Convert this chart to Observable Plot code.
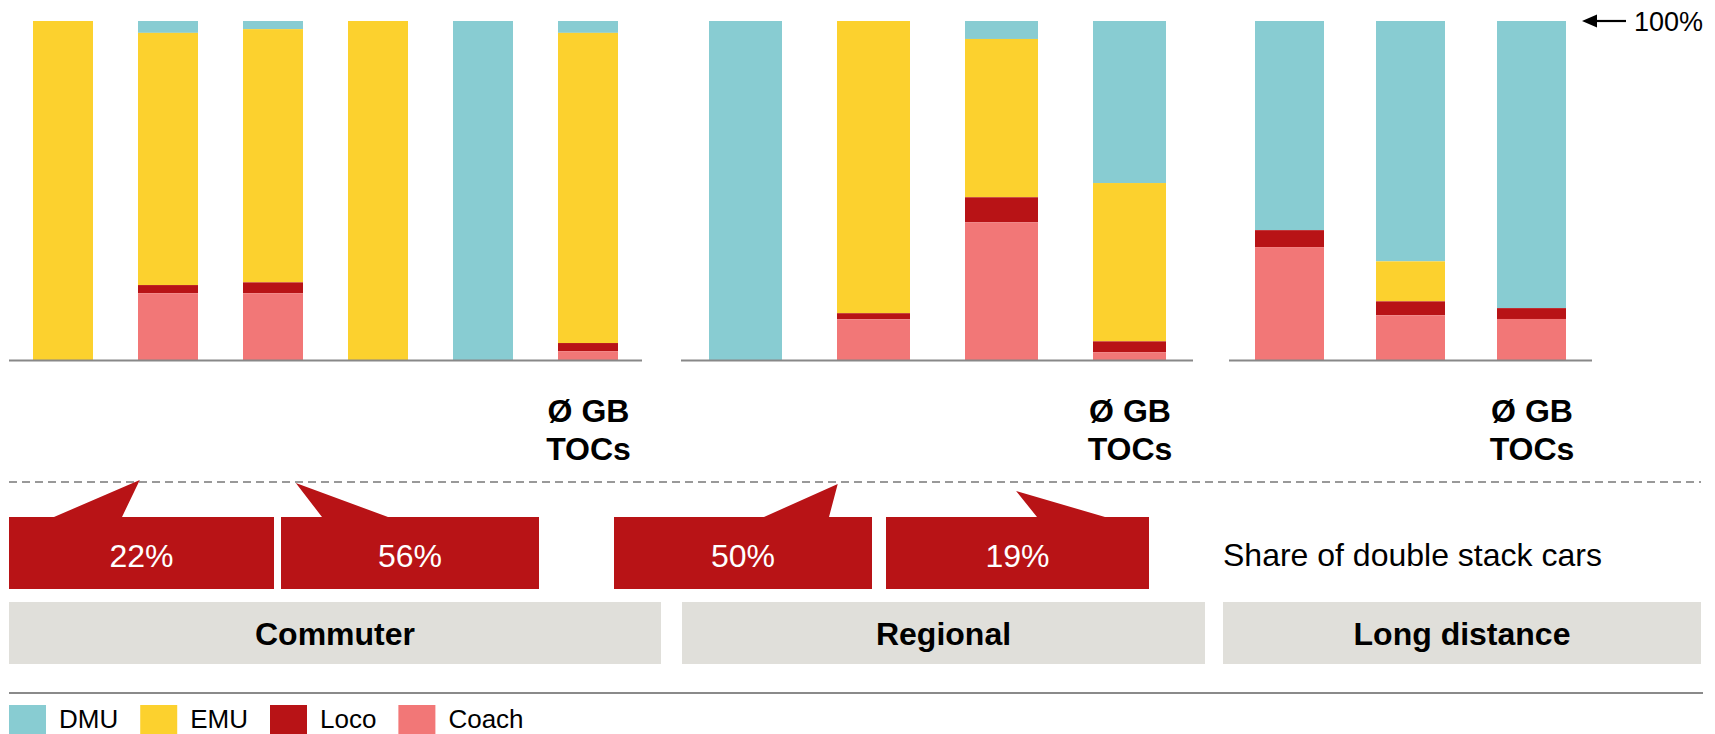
<!DOCTYPE html>
<html>
<head>
<meta charset="utf-8">
<script src="https://cdn.jsdelivr.net/npm/d3@7"></script>
<script src="https://cdn.jsdelivr.net/npm/@observablehq/plot@0.6"></script>
<style>
  html, body { margin: 0; padding: 0; background: #fff; overflow: hidden; }
  #chart { position: relative; width: 1715px; height: 734px; overflow: hidden; font-family: "Liberation Sans", Arial, sans-serif; }
  #chart svg { position: absolute; left: 0; top: 0; }
</style>
</head>
<body>
<div id="chart"></div>
<script>
// ---------- data ----------
const series = ["DMU", "EMU", "Loco", "Coach"];
const seriesColors = ["#88CCD2", "#FCD12E", "#B81316", "#F27777"];
const stackOrder = ["Coach", "Loco", "EMU", "DMU"];

const segments = ["Commuter", "Regional", "Long distance"];
const avgCategory = "Ø GB TOCs";
const avgTickLabel = "Ø GB\nTOCs";

const commuterTOCs  = ["TOC 1", "TOC 2", "TOC 3", "TOC 4", "TOC 5", "Ø GB TOCs"];
const commuterDMU   = [0, 3.5, 2.4, 0, 100, 3.5];
const commuterEMU   = [100, 74.4, 74.7, 100, 0, 91.5];
const commuterLoco  = [0, 2.4, 3.2, 0, 0, 2.4];
const commuterCoach = [0, 19.7, 19.7, 0, 0, 2.6];

const regionalTOCs  = ["TOC 1", "TOC 2", "TOC 3", "Ø GB TOCs"];
const regionalDMU   = [100, 0, 5.3, 47.8];
const regionalEMU   = [0, 86.2, 46.7, 46.7];
const regionalLoco  = [0, 1.8, 7.4, 3.2];
const regionalCoach = [0, 12.0, 40.6, 2.3];

const longTOCs  = ["TOC 1", "TOC 2", "Ø GB TOCs"];
const longDMU   = [61.7, 70.9, 84.7];
const longEMU   = [0, 11.8, 0];
const longLoco  = [5.0, 4.1, 3.2];
const longCoach = [33.3, 13.2, 12.1];

const doubleStackShares   = [22, 56, 50, 19];
const doubleStackSegment  = ["Commuter", "Commuter", "Regional", "Regional"];
const doubleStackTarget   = ["TOC 2", "TOC 3", "TOC 2", "TOC 3"];
const doubleStackCaption  = "Share of double stack cars";
const fullScaleLabel = "100%";

// ---------- layout (styling only) ----------
const FONT = "Liberation Sans, Arial, sans-serif";
const W = 1715, H = 734;
const panelLayout = {
  "Commuter":      {left: 9,    right: 642},
  "Regional":      {left: 681,  right: 1193},
  "Long distance": {left: 1229, right: 1592}
};
const bandLayout = {
  "Commuter":      [9, 661],
  "Regional":      [682, 1205],
  "Long distance": [1223, 1701]
};
const calloutLayout = [
  {x0: 9,   x1: 274,  b0: 54,   b1: 122,  frac: 0.03, apexY: 480},
  {x0: 281, x1: 539,  b0: 322,  b1: 388,  frac: 0.88, apexY: 483},
  {x0: 614, x1: 872,  b0: 764,  b1: 829,  frac: 0.01, apexY: 484},
  {x0: 886, x1: 1149, b0: 1037, b1: 1105, frac: 0.70, apexY: 491}
];

const panelData = {
  "Commuter":      {cats: commuterTOCs, DMU: commuterDMU, EMU: commuterEMU, Loco: commuterLoco, Coach: commuterCoach},
  "Regional":      {cats: regionalTOCs, DMU: regionalDMU, EMU: regionalEMU, Loco: regionalLoco, Coach: regionalCoach},
  "Long distance": {cats: longTOCs,     DMU: longDMU,     EMU: longEMU,     Loco: longLoco,     Coach: longCoach}
};

const chart = document.getElementById("chart");

// ---------- lower overlay (drawn first, behind) ----------
const overlay = d3.create("svg").attr("width", W).attr("height", H)
  .attr("font-family", FONT);
chart.appendChild(overlay.node());

// ---------- bar panels ----------
const plots = {};
segments.forEach(seg => {
  const d = panelData[seg];
  const rows = [];
  d.cats.forEach((c, i) => {
    series.forEach(s => rows.push({cat: c, series: s, value: d[s][i]}));
  });
  const L = panelLayout[seg];
  const marks = [
    Plot.barY(rows, {x: "cat", y: "value", fill: "series", order: stackOrder}),
    Plot.ruleY([0], {stroke: "#888888", strokeWidth: 2.2}),
    Plot.text([avgCategory], {
      x: c => c, text: () => avgTickLabel, frameAnchor: "bottom", lineAnchor: "top",
      dy: 34, fontSize: 32, fontWeight: "bold", lineHeight: 1.19, fill: "#000", fontFamily: FONT
    })
  ];
  const p = Plot.plot({
    width: W, height: 470,
    marginTop: 21, marginBottom: 110,
    marginLeft: L.left, marginRight: W - L.right,
    x: {domain: d.cats, paddingInner: 0.43, paddingOuter: 0.21, align: 0.5, axis: null},
    y: {domain: [0, 100], axis: null},
    color: {domain: series, range: seriesColors},
    style: {background: "transparent", fontFamily: FONT, overflow: "visible"},
    marks
  });
  chart.appendChild(p);
  plots[seg] = p;
});

// "← 100%" marker on the last panel
{
  const p = plots["Long distance"];
  const y100 = p.scale("y").apply(100);
  const s = d3.select(p);
  s.append("line").attr("x1", 1594).attr("x2", 1626).attr("y1", y100).attr("y2", y100)
    .attr("stroke", "#000").attr("stroke-width", 2.2);
  s.append("path")
    .attr("d", `M1582,${y100} L1597,${y100 - 6.5} L1597,${y100 + 6.5} Z`)
    .attr("fill", "#000");
  s.append("text").attr("x", 1634).attr("y", y100 + 10)
    .attr("text-anchor", "start")
    .attr("font-size", 27).attr("font-family", FONT).attr("fill", "#000")
    .text(fullScaleLabel);
}

// dashed separator
overlay.append("line").attr("x1", 9).attr("x2", 1701).attr("y1", 482).attr("y2", 482)
  .attr("stroke", "#999").attr("stroke-width", 2).attr("stroke-dasharray", "8,5");

// callouts
doubleStackShares.forEach((v, i) => {
  const lay = calloutLayout[i];
  const sx = plots[doubleStackSegment[i]].scale("x");
  const apexX = sx.apply(doubleStackTarget[i]) + lay.frac * sx.bandwidth;
  const top = 517, bottom = 589;
  overlay.append("path")
    .attr("d", `M${lay.x0},${top} L${lay.b0},${top} L${apexX},${lay.apexY} L${lay.b1},${top} L${lay.x1},${top} L${lay.x1},${bottom} L${lay.x0},${bottom} Z`)
    .attr("fill", "#B81316");
  overlay.append("text").attr("x", (lay.x0 + lay.x1) / 2).attr("y", 567)
    .attr("text-anchor", "middle").attr("font-size", 32).attr("fill", "#fff")
    .text(v + "%");
});
overlay.append("text").attr("x", 1223).attr("y", 566)
  .attr("font-size", 32).attr("fill", "#000").text(doubleStackCaption);

// segment bands
segments.forEach(seg => {
  const [a, b] = bandLayout[seg];
  overlay.append("rect").attr("x", a).attr("y", 602).attr("width", b - a).attr("height", 62)
    .attr("fill", "#E0DFDA");
  overlay.append("text").attr("x", (a + b) / 2).attr("y", 645)
    .attr("text-anchor", "middle").attr("font-size", 32).attr("font-weight", "bold")
    .attr("fill", "#000").text(seg);
});

// bottom rule
overlay.append("line").attr("x1", 9).attr("x2", 1703).attr("y1", 693).attr("y2", 693)
  .attr("stroke", "#8a8a8a").attr("stroke-width", 2);

// legend
{
  let lx = 9;
  series.forEach((s, i) => {
    overlay.append("rect").attr("x", lx).attr("y", 705).attr("width", 37).attr("height", 37)
      .attr("fill", seriesColors[i]);
    const t = overlay.append("text").attr("x", lx + 50).attr("y", 728)
      .attr("font-size", 26).attr("fill", "#000").text(s);
    lx = lx + 50 + t.node().getComputedTextLength() + 22;
  });
}
</script>
</body>
</html>
